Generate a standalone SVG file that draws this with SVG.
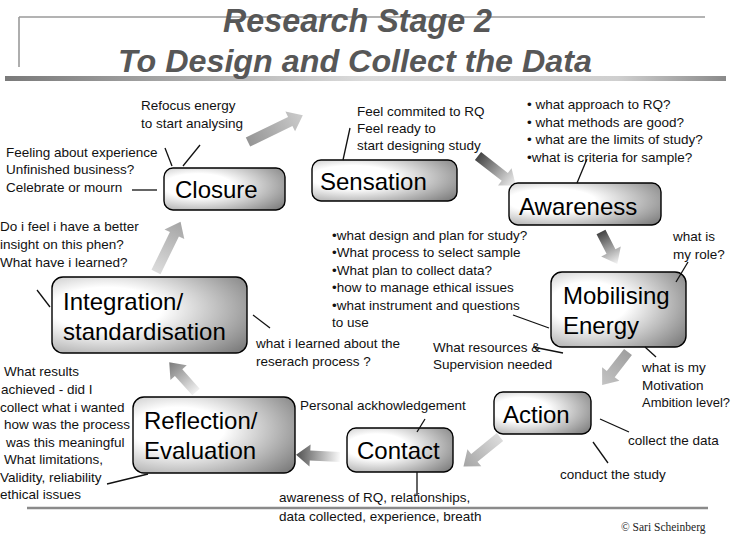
<svg xmlns="http://www.w3.org/2000/svg" width="732" height="537" viewBox="0 0 732 537">
  <defs>
    <style>
      .title { font-family: "Liberation Sans", Arial, sans-serif; font-weight: bold; font-style: italic; fill: #575757; }
      .node rect { stroke: #000; stroke-width: 1.4; fill: url(#boxFill); }
      .node text { font-family: "Liberation Sans", Arial, sans-serif; font-size: 24px; fill: #000; }
      .note { font-family: "Liberation Sans", Arial, sans-serif; font-size: 13.5px; fill: #111; }
      .lead { stroke: #111; stroke-width: 1.3; fill: none; }
      .copy { font-family: "Liberation Serif", "Times New Roman", serif; font-size: 11.5px; fill: #222; }
    </style>
    <radialGradient id="boxFill" cx="0.28" cy="0.42" r="0.95">
      <stop offset="0.3" stop-color="#ffffff"/>
      <stop offset="1" stop-color="#6c6c6c"/>
    </radialGradient>
    <linearGradient id="rule" x1="0" y1="0" x2="1" y2="0">
      <stop offset="0" stop-color="#7a7a7a"/>
      <stop offset="0.5" stop-color="#dcdcdc"/>
      <stop offset="0.85" stop-color="#cfcfcf"/>
      <stop offset="1" stop-color="#8a8a8a"/>
    </linearGradient>
    <!-- block arrow fills, running tail (x=0) to head (x=1) -->
    <linearGradient id="aGrey" x1="0" y1="0" x2="1" y2="0">
      <stop offset="0" stop-color="#959595"/>
      <stop offset="1" stop-color="#cccccc"/>
    </linearGradient>
    <linearGradient id="aDarkFade" x1="0" y1="0" x2="1" y2="0">
      <stop offset="0" stop-color="#444"/>
      <stop offset="1" stop-color="#f5f5f5"/>
    </linearGradient>
    <linearGradient id="aFlat" x1="0" y1="0" x2="1" y2="0">
      <stop offset="0" stop-color="#a0a0a0"/>
      <stop offset="1" stop-color="#c4c4c4"/>
    </linearGradient>
    <linearGradient id="aLightIn" x1="0" y1="0" x2="1" y2="0">
      <stop offset="0" stop-color="#dcdcdc"/>
      <stop offset="1" stop-color="#a4a4a4"/>
    </linearGradient>
    <linearGradient id="aDarkIn" x1="0" y1="0" x2="1" y2="0">
      <stop offset="0" stop-color="#fafafa"/>
      <stop offset="1" stop-color="#505050"/>
    </linearGradient>
    <linearGradient id="aMidIn" x1="0" y1="0" x2="1" y2="0">
      <stop offset="0" stop-color="#f0f0f0"/>
      <stop offset="1" stop-color="#7a7a7a"/>
    </linearGradient>
  </defs>

  <rect width="732" height="537" fill="#fff"/>

  <!-- heading frame -->
  <line x1="19" y1="17" x2="705" y2="17" stroke="#9a9a9a" stroke-width="1.6"/>
  <line x1="19" y1="17" x2="19" y2="67" stroke="#9a9a9a" stroke-width="1.6"/>
  <rect x="5" y="76" width="721" height="5" fill="url(#rule)"/>
  <text class="title" x="223" y="32" font-size="33" textLength="269" lengthAdjust="spacingAndGlyphs">Research Stage 2</text>
  <text class="title" x="118" y="72" font-size="31" textLength="474" lengthAdjust="spacingAndGlyphs">To Design and Collect the Data</text>

  <!-- footer -->
  <line x1="27" y1="508" x2="708" y2="508" stroke="#8a8a8a" stroke-width="2.5"/>
  <text class="copy" x="621" y="531">© Sari Scheinberg</text>

  <!-- cycle arrows -->
  <g id="connectors">
    <polygon transform="translate(248,142) rotate(-26)" points="0,-5 47,-5 47,-11 61,0 47,11 47,5 0,5" fill="url(#aGrey)"/>
    <polygon transform="translate(478,156) rotate(38)" points="0,-5 34,-5 34,-11 48,0 34,11 34,5 0,5" fill="url(#aDarkFade)"/>
    <polygon transform="translate(601,232) rotate(63)" points="0,-5 22,-5 22,-11 36,0 22,11 22,5 0,5" fill="url(#aDarkFade)"/>
    <polygon transform="translate(628,352) rotate(128)" points="0,-5 28,-5 28,-11 42,0 28,11 28,5 0,5" fill="url(#aFlat)"/>
    <polygon transform="translate(500,437) rotate(141)" points="0,-5 33,-5 33,-11 47,0 33,11 33,5 0,5" fill="url(#aLightIn)"/>
    <polygon transform="translate(340,457) rotate(183)" points="0,-5 30,-5 30,-11 44,0 30,11 30,5 0,5" fill="url(#aDarkIn)"/>
    <polygon transform="translate(196,392) rotate(228)" points="0,-5 26,-5 26,-11 40,0 26,11 26,5 0,5" fill="url(#aMidIn)"/>
    <polygon transform="translate(156,272) rotate(-64)" points="0,-5 42,-5 42,-11 56,0 42,11 42,5 0,5" fill="url(#aLightIn)"/>
  </g>

  <!-- stage boxes -->
  <g id="closure" class="node">
    <rect x="164" y="168" width="121" height="42" rx="9"/>
    <text x="175" y="198">Closure</text>
  </g>
  <g id="sensation" class="node">
    <rect x="312" y="160" width="145" height="41" rx="9"/>
    <text x="320" y="190">Sensation</text>
  </g>
  <g id="awareness" class="node">
    <rect x="509" y="183" width="152" height="42" rx="9"/>
    <text x="519" y="215">Awareness</text>
  </g>
  <g id="mobilising" class="node">
    <rect x="551" y="272" width="135" height="75" rx="11"/>
    <text x="563" y="304">Mobilising</text>
    <text x="563" y="334">Energy</text>
  </g>
  <g id="action" class="node">
    <rect x="494" y="392" width="97" height="42" rx="9"/>
    <text x="503" y="423">Action</text>
  </g>
  <g id="contact" class="node">
    <rect x="347" y="428" width="106" height="44" rx="9"/>
    <text x="357" y="459">Contact</text>
  </g>
  <g id="reflection" class="node">
    <rect x="133" y="397" width="162" height="76" rx="11"/>
    <text x="144" y="429">Reflection/</text>
    <text x="144" y="459">Evaluation</text>
  </g>
  <g id="integration" class="node">
    <rect x="52" y="277" width="195" height="76" rx="11"/>
    <text x="63" y="310">Integration/</text>
    <text x="63" y="340">standardisation</text>
  </g>

  <!-- annotation leader lines -->
  <g id="leaders" class="lead">
    <line x1="165" y1="148" x2="172" y2="166"/>
    <line x1="200" y1="145" x2="183" y2="166"/>
    <line x1="132" y1="190" x2="157" y2="190"/>
    <line x1="350" y1="128" x2="343" y2="160"/>
    <line x1="587" y1="159" x2="577" y2="183"/>
    <line x1="688" y1="262" x2="676" y2="282"/>
    <line x1="513" y1="315" x2="549" y2="328"/>
    <line x1="533" y1="347" x2="563" y2="353"/>
    <line x1="645" y1="347" x2="656" y2="357"/>
    <line x1="600" y1="419" x2="629" y2="432"/>
    <line x1="593" y1="442" x2="608" y2="463"/>
    <line x1="425" y1="419" x2="417" y2="432"/>
    <line x1="417" y1="472" x2="417" y2="496"/>
    <line x1="107" y1="484" x2="148" y2="474"/>
    <line x1="253" y1="315" x2="270" y2="328"/>
    <line x1="37" y1="290" x2="50" y2="307"/>
  </g>

  <!-- annotations -->
  <g id="notes" class="note">
    <text x="141" y="110">Refocus energy</text>
    <text x="141" y="128">to start analysing</text>

    <text x="6" y="156.5">Feeling about experience</text>
    <text x="6" y="174">Unfinished business?</text>
    <text x="6" y="191.5">Celebrate or mourn</text>

    <text x="0" y="231">Do i feel i have a better</text>
    <text x="0" y="249">insight on this phen?</text>
    <text x="0" y="266.5">What have i learned?</text>

    <text x="357" y="116">Feel commited to RQ</text>
    <text x="357" y="133">Feel ready to</text>
    <text x="357" y="150">start designing study</text>

    <text x="527" y="109">• what approach to RQ?</text>
    <text x="527" y="126.5">• what methods are good?</text>
    <text x="527" y="144">• what are the limits of study?</text>
    <text x="527" y="161.5">•what is criteria for sample?</text>

    <text x="673" y="241">what is</text>
    <text x="673" y="259">my role?</text>

    <text x="332" y="239.5">•what design and plan for study?</text>
    <text x="332" y="257">•What process to select sample</text>
    <text x="332" y="274.5">•What plan to collect data?</text>
    <text x="332" y="292">•how to manage ethical issues</text>
    <text x="332" y="309.5">•what instrument and questions</text>
    <text x="332" y="327">to use</text>

    <text x="256" y="348">what i learned about the</text>
    <text x="256" y="365.5">reserach process ?</text>

    <text x="433" y="352">What resources &amp;</text>
    <text x="433" y="369">Supervision needed</text>

    <text x="642" y="372">what is my</text>
    <text x="642" y="390">Motivation</text>
    <text x="642" y="407" textLength="88" lengthAdjust="spacingAndGlyphs">Ambition level?</text>

    <text x="300" y="410">Personal ackhowledgement</text>

    <text x="628" y="445">collect the data</text>
    <text x="560" y="479">conduct the study</text>

    <text x="279" y="502">awareness of RQ, relationships,</text>
    <text x="279" y="521">data collected, experience, breath</text>

    <text x="4" y="376">What results</text>
    <text x="1" y="394">achieved  - did I</text>
    <text x="0" y="411.5">collect what i wanted</text>
    <text x="4" y="429">how was the process</text>
    <text x="6" y="446.5">was this meaningful</text>
    <text x="4" y="464">What limitations,</text>
    <text x="0" y="481.5">Validity, reliability</text>
    <text x="0" y="499">ethical issues</text>
  </g>
</svg>
